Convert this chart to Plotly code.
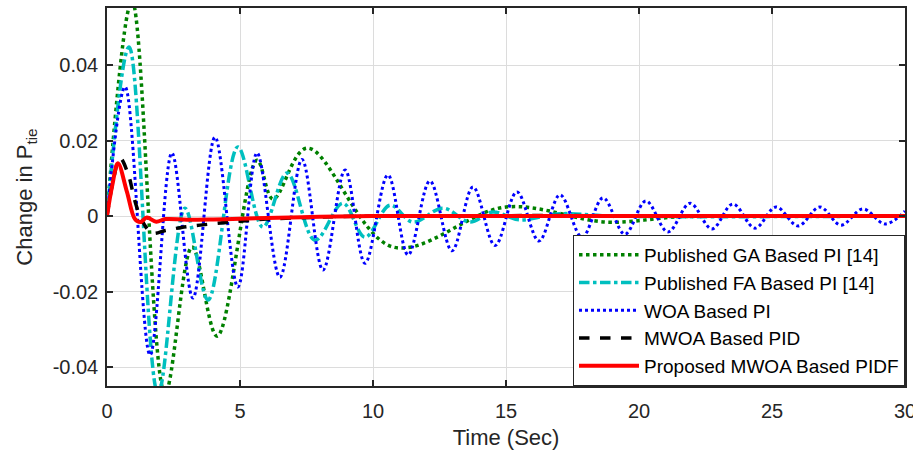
import plotly.graph_objects as go

# ---------------- data ----------------
ga_t = [0, 0.94, 2.18, 3.2, 4.14, 5.64, 6.24, 7.52, 10.75, 15.0, 18.8, 21.5, 25, 30]
ga_y = [0, 0.057, -0.047, -0.0082, -0.0318, 0.0148, 0.0045, 0.018, -0.0082, 0.0024, -0.0016, -0.0002, 0, 0]

fa_t = [0, 0.83, 1.92, 2.93, 3.8, 4.92, 5.86, 6.77, 7.82, 8.87, 9.7, 10.64, 11.5, 12.63,
        13.65, 14.5, 15.5, 17.0, 19.0, 30]
fa_y = [0, 0.0448, -0.047, 0.0021, -0.0222, 0.0183, -0.0029, 0.0114, -0.0064, 0.0034,
        -0.0056, 0.0029, -0.0016, 0.0021, -0.0016, 0.0011, -0.0010, 0.0006, 0, 0]

woa_t = [0, 0.68, 1.62, 2.44, 3.23, 4.06, 4.92, 5.64, 6.50, 7.33, 8.12, 8.95, 9.70, 10.56,
         11.32, 12.14, 12.97, 13.76, 14.59, 15.41, 16.24, 17.03, 17.86, 18.65, 19.47, 20.26,
         21.09, 21.92, 22.74, 23.53, 24.36, 25.15, 25.98, 26.80, 27.59, 28.42, 29.25, 30.0]
woa_y = [0, 0.0342, -0.0368, 0.0167, -0.0217, 0.0209, -0.0188, 0.0167, -0.0162, 0.0150,
         -0.0143, 0.0122, -0.0125, 0.0109, -0.0103, 0.0093, -0.0092, 0.0077, -0.0078, 0.0064,
         -0.0066, 0.0056, -0.0056, 0.0048, -0.0048, 0.0040, -0.0042, 0.0034, -0.0034, 0.0032,
         -0.0032, 0.0024, -0.0026, 0.0024, -0.0024, 0.0019, -0.0021, 0.0013]

pid_t = [0, 0.25, 0.49, 0.8, 1.05, 1.3, 1.7, 2.2, 2.8, 3.5, 4.5, 6, 8, 10, 30]
pid_y = [0, 0.010, 0.0154, 0.011, 0.004, -0.001, -0.0045, -0.0038, -0.0030, -0.0024,
         -0.0017, -0.0008, -0.0003, 0, 0]

pidf_t = [0, 0.2, 0.41, 0.75, 1.05, 1.25, 1.5, 1.85, 2.2, 3.0, 4.0, 5.0, 6.0, 8.0, 10, 15, 30]
pidf_y = [0, 0.0082, 0.0140, 0.0064, -0.0008, -0.0016, -0.0004, -0.0015, -0.0008, -0.0010,
          -0.0009, -0.0007, -0.0005, -0.0002, 0, 0, 0]

x_ticks = [0, 5, 10, 15, 20, 25, 30]
y_ticks = [-0.04, -0.02, 0, 0.02, 0.04]
y_tick_labels = ["-0.04", "-0.02", "0", "0.02", "0.04"]

names = ["Published GA Based PI [14]", "Published FA Based PI [14]", "WOA Based PI",
         "MWOA Based PID", "Proposed MWOA Based PIDF"]

FONT = "Liberation Sans, Arial"
INK = "#262626"

# ---------------- figure ----------------
fig = go.Figure()
series = [
    (ga_t, ga_y, names[0], "#008000", "dot", 3.5),
    (fa_t, fa_y, names[1], "#00BFBF", "dashdot", 3.5),
    (woa_t, woa_y, names[2], "#0000FF", "dot", 3),
    (pid_t, pid_y, names[3], "#000000", "dash", 3.5),
    (pidf_t, pidf_y, names[4], "#FF0000", "solid", 4),
]
for t, y, n, c, d, w in series:
    fig.add_trace(go.Scatter(x=t, y=y, name=n, mode="lines",
                             line=dict(color=c, dash=d, width=w, shape="spline", smoothing=1.0)))

axis_common = dict(showline=True, linecolor=INK, linewidth=1.5, mirror="ticks",
                   ticks="inside", ticklen=6, tickcolor=INK, tickwidth=1.5,
                   showgrid=True, gridcolor="#DCDCDC", gridwidth=1, zeroline=False,
                   automargin=False,
                   tickfont=dict(family=FONT, size=20, color=INK))

fig.update_xaxes(range=[0, 30], tickvals=x_ticks, ticklabeloverflow="allow", ticklabelstandoff=6,
                 title=dict(text="Time (Sec)", font=dict(family=FONT, size=22, color=INK), standoff=9),
                 **axis_common)
fig.update_yaxes(range=[-0.045, 0.0551], tickvals=y_ticks, ticktext=y_tick_labels, ticklabelstandoff=3,
                 title=dict(text="Change in P<sub>tie</sub>", font=dict(family=FONT, size=22, color=INK), standoff=14),
                 **axis_common)

fig.update_layout(
    width=913, height=453,
    margin=dict(l=107, r=8, t=8, b=67),
    plot_bgcolor="white", paper_bgcolor="white",
    showlegend=True,
    legend=dict(x=1, xanchor="right", y=0, yanchor="bottom",
                bgcolor="white", bordercolor=INK, borderwidth=1,
                font=dict(family=FONT, size=19, color="#000000"),
                tracegroupgap=0, itemwidth=60),
)

# remove the page's default body margin so the figure fills the window exactly
fig.write_html("out.html", config={"displayModeBar": False},
               post_script="document.body.style.margin='0px';document.body.style.overflow='hidden';")
